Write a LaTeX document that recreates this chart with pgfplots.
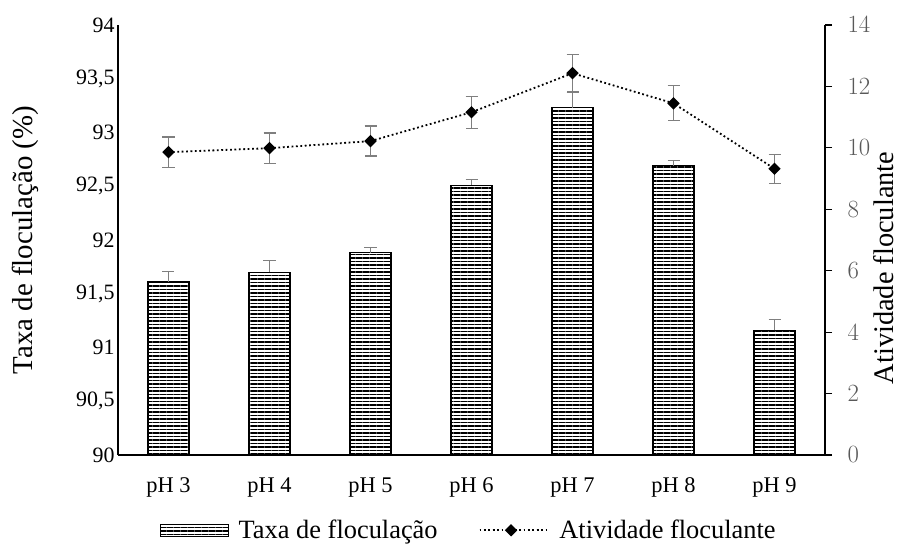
\documentclass[border=0pt]{standalone}
\usepackage{pgfplots}
\pgfplotsset{compat=1.18}
\usepackage{pgfplotstable}
\usepackage{fontspec}
\setmainfont{Liberation Serif}
\newfontfamily\carlito{Carlito}
\usetikzlibrary{patterns.meta}
\definecolor{errgray}{HTML}{7F7F7F}
\definecolor{tickgray}{HTML}{595959}

\pgfplotsset{
  barlegend/.style={legend image code/.code={\draw[##1] (0bp,-6bp) rectangle (68bp,6bp);}},
  linelegend/.style={legend image code/.code={\draw[mark repeat=2, mark phase=2, ##1] plot coordinates {(0bp,0bp) (31.5bp,0bp) (63bp,0bp)}; \path (0bp,0bp) -- (69bp,0bp);}},
}

\pgfplotstableread{
x bar berr line lerr
0 91.61 0.10 9.86 0.49
1 91.70 0.11 9.99 0.49
2 91.88 0.05 10.22 0.49
3 92.51 0.05 11.16 0.52
4 93.23 0.14 12.43 0.60
5 92.69 0.05 11.45 0.57
6 91.16 0.10 9.32 0.47
}\datatable

\begin{document}
\begin{tikzpicture}
\path[use as bounding box] (-118bp,-90bp) rectangle (794bp,455bp);
\begin{axis}[
  width=707bp, height=430bp, scale only axis,
  at={(0,0)}, anchor=south west,
  xmin=-0.5, xmax=6.5,
  ymin=90, ymax=94,
  ytick={90,90.5,91,91.5,92,92.5,93,93.5,94},
  xtick={0,1,2,3,4,5,6},
  xticklabels={pH 3,pH 4,pH 5,pH 6,pH 7,pH 8,pH 9},
  axis x line*=bottom, axis y line*=left,
  axis line style={line width=1.2bp, black},
  major tick length=0pt,
  tick style={draw=none},
  /pgf/number format/assume math mode=true,
  yticklabel style={font=\fontsize{22}{26}\selectfont, /pgf/number format/.cd, use comma, fixed, precision=1},
  xticklabel style={font=\fontsize{22.5}{26}\selectfont, yshift=-19bp},
  ylabel={Taxa de floculação (\%)},
  ylabel style={font=\fontsize{29}{34}\selectfont, at={(axis description cs:-0.1315,0.5)}, anchor=center},
]
\addplot[ybar, bar width=41bp, draw=black, line width=1.2bp,
  pattern={Lines[angle=0,distance=3.5bp,line width=1.5bp]}, pattern color=black,
  error bars/.cd, y dir=plus, y explicit,
  error bar style={errgray, line width=1.3bp},
  error mark options={rotate=90, errgray, mark size=6bp, line width=1.3bp}]
  table[x=x, y=bar, y error=berr]{\datatable};
\end{axis}
\begin{axis}[
  width=707bp, height=430bp, scale only axis,
  at={(0,0)}, anchor=south west,
  xmin=-0.5, xmax=6.5,
  ymin=0, ymax=14,
  ytick={0,2,4,6,8,10,12,14},
  axis y line*=right, axis x line=none,
  axis line style={line width=1.2bp, black},
  tick align=outside, major tick length=7bp,
  tick style={line width=1.2bp, black},
  yticklabel style={font=\carlito\fontsize{23}{27}\selectfont, color=tickgray, xshift=12bp},
  ylabel={Atividade floculante},
  ylabel style={font=\fontsize{28.5}{33}\selectfont, at={(axis description cs:1.083,0.435)}, anchor=center},
  legend style={at={(axis description cs:0.496,-0.175)}, anchor=center, draw=none,
    font=\fontsize{26.5}{30}\selectfont, legend columns=2,
    /tikz/every odd column/.append style={column sep=8bp},
    /tikz/every even column/.append style={column sep=39bp}},
]
\addlegendimage{draw=black, line width=1bp, pattern={Lines[angle=0,distance=3.5bp,line width=1.5bp]}, pattern color=black, barlegend}
\addlegendentry{Taxa de floculação}
\addplot[black, line width=1.8bp, dash pattern=on 1.8bp off 2.6bp,
  mark=square*, mark size=3.5bp, mark options={solid, rotate=45, fill=black},
  linelegend,
  error bars/.cd, y dir=both, y explicit,
  error bar style={solid, errgray, line width=1.3bp},
  error mark options={rotate=90, solid, errgray, mark size=6bp, line width=1.3bp}]
  table[x=x, y=line, y error=lerr]{\datatable};
\addlegendentry{Atividade floculante}
\end{axis}
\end{tikzpicture}
\end{document}
